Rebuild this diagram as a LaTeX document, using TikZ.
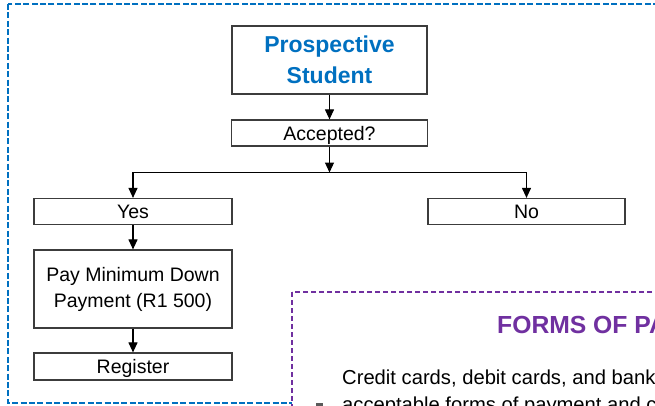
\documentclass[tikz,border=0pt]{standalone}
\usepackage{fontspec}
\setmainfont{Liberation Sans}
\usetikzlibrary{arrows.meta}
\definecolor{titleblue}{RGB}{0,112,192}
\definecolor{framepurple}{RGB}{112,48,160}
\definecolor{boxline}{RGB}{60,60,60}
\definecolor{bulletgray}{RGB}{90,90,90}
\tikzset{
  flowbox/.style={draw=boxline, line width=1.2pt, fill=white, inner sep=0pt,
    font=\fontsize{19.5}{26}\selectfont, align=center},
  onebox/.style={flowbox, text height=14pt, text depth=0pt},
  arr/.style={draw=black, line width=1.1pt, -{Triangle[length=10pt,width=9pt]}},
  bluedash/.style={draw=titleblue, line width=2pt, dash pattern=on 6pt off 2.4pt},
  purpledash/.style={draw=framepurple, line width=1.5pt, dash pattern=on 5pt off 3pt, fill=white},
}
\begin{document}
\begin{tikzpicture}[x=1pt,y=-1pt]
\useasboundingbox (0,0) rectangle (655,405);
\clip (0,0) rectangle (655,405);
\fill[white] (0,0) rectangle (655,405);
% outer blue dashed frame
\draw[bluedash] (8,4) rectangle (720,403);
% flow nodes
\node[flowbox, minimum width=195pt, minimum height=68pt,
      font=\fontsize{23}{30.7}\selectfont\bfseries, text=titleblue]
      (ps) at (329.5,60) {Prospective\\Student};
\node[onebox, minimum width=196pt, minimum height=26pt] (acc) at (329.5,133) {Accepted?};
\node[onebox, minimum width=198pt, minimum height=26pt] (yes) at (133,211.5) {Yes};
\node[onebox, minimum width=197pt, minimum height=26pt] (no) at (526.5,211.5) {No};
\node[flowbox, minimum width=198pt, minimum height=78pt] (pay) at (133,289) {Pay Minimum Down\\Payment (R1 500)};
\node[onebox, minimum width=198pt, minimum height=27pt] (reg) at (133,366.5) {Register};
\coordinate (j) at (329.5,172.5);
% connectors
\draw[arr] (ps) -- (acc);
\draw[arr] (acc) -- (j);
\draw[arr] (j) -| (yes.north);
\draw[arr] (j) -| (no.north);
\draw[arr] (yes) -- (pay);
\draw[arr] (pay) -- (reg);
% purple dashed panel
\draw[purpledash] (292,292) rectangle (720,460);
\node[anchor=base west, inner sep=0pt, text=framepurple,
      font=\fontsize{24.7}{30}\selectfont\bfseries] (title) at (497,333) {FORMS OF PAYMENT};
\node[anchor=base west, inner sep=0pt, font=\fontsize{20.2}{26}\selectfont] (line1) at (342,384) {Credit cards, debit cards, and bank};
\node[anchor=base west, inner sep=0pt, font=\fontsize{20.2}{26}\selectfont] (line2) at (342,411) {acceptable forms of payment and c};
\fill[bulletgray] (316,403) rectangle (323,410);
\end{tikzpicture}
\end{document}
